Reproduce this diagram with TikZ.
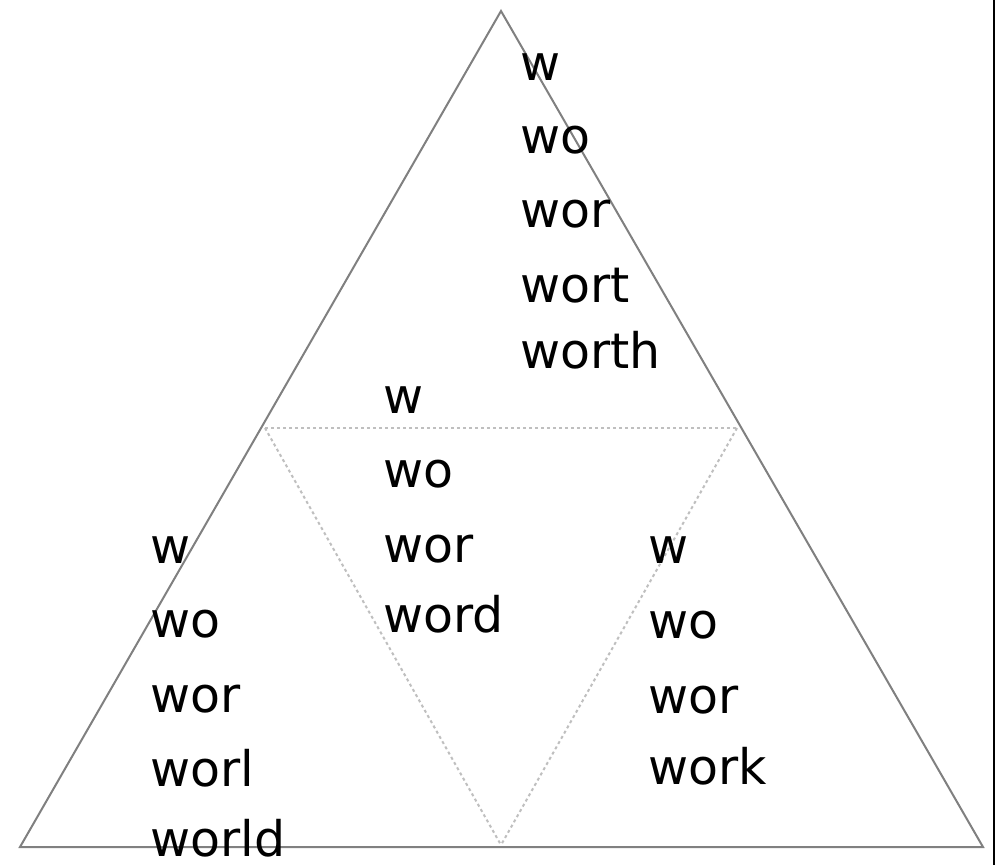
\documentclass[tikz,border=0pt]{standalone}
\usepackage{fontspec}
\setmainfont{DejaVu Sans}
\begin{document}
\begin{tikzpicture}[x=1pt,y=-1pt,
  outer/.style={draw=black!50,line width=2pt,line join=miter},
  inner/.style={draw=black!25,line width=2pt,dash pattern=on 3pt off 3pt},
  word/.style={anchor=base west,inner sep=0pt,font=\fontsize{49}{49}\selectfont,text=black}]
\useasboundingbox (0,0) rectangle (995,865);
\fill[white] (0,0) rectangle (995,865);
\coordinate (A) at (501,11);
\coordinate (L) at (20,847);
\coordinate (R) at (983,847);
\coordinate (ML) at (265,428);
\coordinate (MR) at (737,428);
\coordinate (MB) at (501,845);
\draw[inner] (ML) -- (MR);
\draw[inner] (ML) -- (MB);
\draw[inner] (MR) -- (MB);
\draw[outer] (L) -- (A) -- (R) -- cycle;
\coordinate (E1) at (994,0);
\coordinate (E2) at (994,865);
\draw[black,line width=1.5pt] (E1) -- (E2);
% top group
\node[word] (t1) at (520,80) {w};
\node[word] (t2) at (520,153) {wo};
\node[word] (t3) at (520,227) {wor};
\node[word] (t4) at (520,302) {wort};
\node[word] (t5) at (520,368) {worth};
% middle group
\node[word] (m1) at (383,413) {w};
\node[word] (m2) at (383,487) {wo};
\node[word] (m3) at (383,562) {wor};
\node[word] (m4) at (383,632) {word};
% left group
\node[word] (l1) at (150,563) {w};
\node[word] (l2) at (150,637) {wo};
\node[word] (l3) at (150,712) {wor};
\node[word] (l4) at (150,786) {worl};
\node[word] (l5) at (150,856) {world};
% right group
\node[word] (r1) at (648,563) {w};
\node[word] (r2) at (648,638) {wo};
\node[word] (r3) at (648,713) {wor};
\node[word] (r4) at (648,784) {work};
\end{tikzpicture}
\end{document}
